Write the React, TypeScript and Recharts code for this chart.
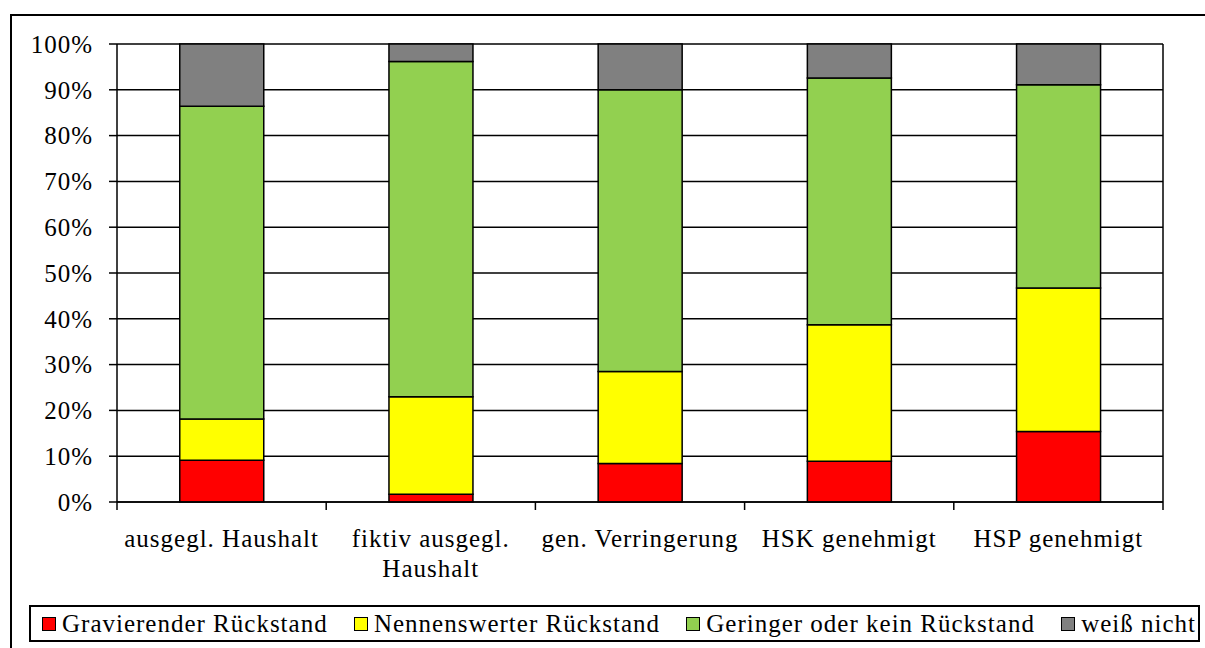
import { BarChart, Bar, XAxis, YAxis, CartesianGrid } from 'recharts'

const categories = [
  'ausgegl. Haushalt',
  'fiktiv ausgegl. Haushalt',
  'gen. Verringerung',
  'HSK genehmigt',
  'HSP genehmigt',
]

// percent shares per category
const gravierend = [9.1, 1.7, 8.4, 8.9, 15.4]
const nennenswert = [9.0, 21.3, 20.1, 29.8, 31.3]
const gering = [68.3, 73.2, 61.5, 53.9, 44.4]
const weissNicht = [13.6, 3.8, 10.0, 7.4, 8.9]

const yTicks = [0, 10, 20, 30, 40, 50, 60, 70, 80, 90, 100]

const series = [
  { key: 'gravierend', name: 'Gravierender Rückstand', color: '#ff0000' },
  { key: 'nennenswert', name: 'Nennenswerter Rückstand', color: '#ffff00' },
  { key: 'gering', name: 'Geringer oder kein Rückstand', color: '#92d050' },
  { key: 'weissNicht', name: 'weiß nicht', color: '#808080' },
]

const data = categories.map((name, i) => ({
  name,
  gravierend: gravierend[i],
  nennenswert: nennenswert[i],
  gering: gering[i],
  weissNicht: weissNicht[i],
}))

const W = 1205
const H = 648
const LEFT = 117
const RIGHT_M = 41
const PLOT_W = W - LEFT - RIGHT_M - 1

const FAMILY = 'Liberation Serif, Times New Roman, serif'
const font = {
  fontFamily: FAMILY,
  fontSize: 25,
  letterSpacing: 1,
  fill: '#000',
}

let ctx: CanvasRenderingContext2D | null = null
function measure(s: string) {
  if (!ctx) ctx = document.createElement('canvas').getContext('2d')
  if (!ctx) return s.length * 12
  ctx.font = `25px ${FAMILY}`
  return ctx.measureText(s).width + s.length
}

function wrap(label: string, maxW: number) {
  const words = label.split(' ')
  const lines: string[] = []
  let cur = ''
  for (const w of words) {
    const next = cur ? cur + ' ' + w : w
    if (cur && measure(next) > maxW) {
      lines.push(cur)
      cur = w
    } else cur = next
  }
  if (cur) lines.push(cur)
  return lines
}

function CatTick(props: any) {
  const { x, y, payload, index } = props
  const bw = PLOT_W / categories.length
  const lines = wrap(String(payload.value), bw - 4)
  return (
    <g>
      <line x1={x - bw / 2} x2={x - bw / 2} y1={y} y2={y + 8} stroke="#000" strokeWidth={1.5} />
      {index === categories.length - 1 && (
        <line x1={x + bw / 2} x2={x + bw / 2} y1={y} y2={y + 8} stroke="#000" strokeWidth={1.5} />
      )}
      <text x={x} y={y + 45} textAnchor="middle" style={font}>
        {lines.map((l, i) => (
          <tspan key={i} x={x} dy={i === 0 ? 0 : 30}>
            {l}
          </tspan>
        ))}
      </text>
    </g>
  )
}

export default function App() {
  return (
    <div style={{ position: 'absolute', left: 0, top: 0, width: W, height: H, overflow: 'hidden', background: '#fff' }}>
      <div
        style={{
          position: 'absolute',
          left: 10,
          top: 14,
          width: W,
          height: H,
          borderLeft: '2px solid #000',
          borderTop: '2px solid #000',
        }}
      />
      <div style={{ position: 'absolute', left: 0, top: 0 }}>
        <BarChart
          width={W}
          height={H}
          data={data}
          margin={{ top: 44, right: RIGHT_M, bottom: 46, left: 0 }}
          barCategoryGap="30%"
        >
          <CartesianGrid vertical={false} stroke="#000" strokeWidth={1.5} />
          <XAxis
            dataKey="name"
            height={100}
            tickLine={false}
            tickSize={0}
            tickMargin={0}
            interval={0}
            axisLine={{ stroke: '#000', strokeWidth: 1.5 }}
            tick={<CatTick />}
          />
          <YAxis
            width={LEFT}
            domain={[0, 100]}
            ticks={yTicks}
            interval={0}
            tickFormatter={(v: number) => `${v}%`}
            tickSize={8}
            tickMargin={16}
            axisLine={{ stroke: '#000', strokeWidth: 1.5 }}
            tickLine={{ stroke: '#000', strokeWidth: 1.5 }}
            tick={font}
          />
          <YAxis
            yAxisId="r"
            orientation="right"
            width={1}
            domain={[0, 100]}
            tick={false}
            tickLine={false}
            axisLine={{ stroke: '#000', strokeWidth: 1.5 }}
          />
          {series.map((s) => (
            <Bar
              key={s.key}
              dataKey={s.key}
              name={s.name}
              stackId="a"
              fill={s.color}
              stroke="#000"
              strokeWidth={1.5}
              isAnimationActive={false}
            />
          ))}
        </BarChart>
      </div>
      <div
        style={{
          position: 'absolute',
          left: 29,
          top: 605,
          width: 1171,
          height: 37,
          boxSizing: 'border-box',
          border: '2px solid #000',
          display: 'flex',
          alignItems: 'center',
          justifyContent: 'space-between',
          padding: '0 2px 0 11px',
          fontFamily: FAMILY,
          fontSize: 25,
          letterSpacing: 1,
          whiteSpace: 'nowrap',
        }}
      >
        {series.map((s) => (
          <div key={s.key} style={{ display: 'flex', alignItems: 'center' }}>
            <span
              style={{
                display: 'inline-block',
                width: 12,
                height: 12,
                background: s.color,
                border: '1.5px solid #000',
                marginRight: 6,
              }}
            />
            <span>{s.name}</span>
          </div>
        ))}
      </div>
    </div>
  )
}
